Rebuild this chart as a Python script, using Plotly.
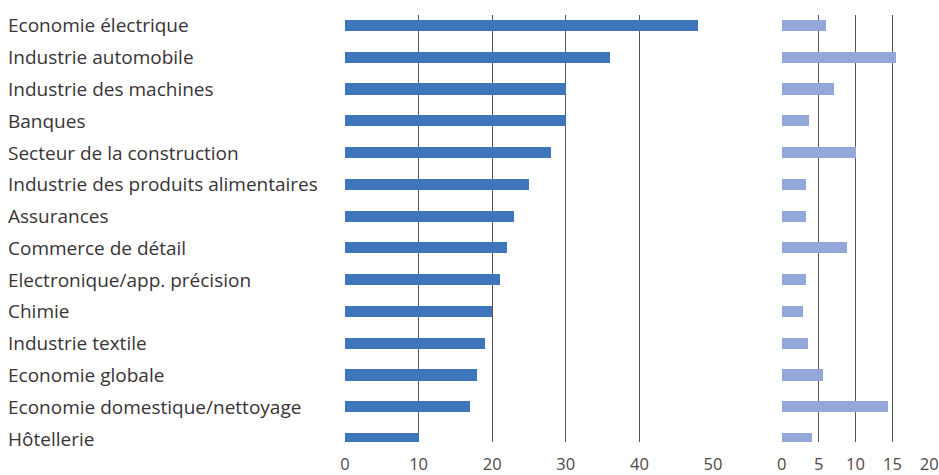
import plotly.graph_objects as go

categories = [
    "Economie électrique",
    "Industrie automobile",
    "Industrie des machines",
    "Banques",
    "Secteur de la construction",
    "Industrie des produits alimentaires",
    "Assurances",
    "Commerce de détail",
    "Electronique/app. précision",
    "Chimie",
    "Industrie textile",
    "Economie globale",
    "Economie domestique/nettoyage",
    "Hôtellerie",
]
left_values = [48, 36, 30, 30, 28, 25, 23, 22, 21, 20, 19, 18, 17, 10]
right_values = [6, 15.5, 7, 3.7, 10, 3.3, 3.3, 8.8, 3.2, 2.8, 3.5, 5.5, 14.3, 4.1]
left_ticks = [0, 10, 20, 30, 40, 50]
right_ticks = [0, 5, 10, 15, 20]

W, H = 939, 475
grid_color = "#5e5456"
text_color = "#3a3336"
font_family = "Open Sans"

fig = go.Figure()
fig.add_trace(go.Bar(
    x=left_values, y=categories, orientation="h",
    marker=dict(color="#3d76bb", line=dict(width=0)),
    width=0.35, xaxis="x", yaxis="y", showlegend=False,
))
fig.add_trace(go.Bar(
    x=right_values, y=categories, orientation="h",
    marker=dict(color="#93a7d8", line=dict(width=0)),
    width=0.35, xaxis="x2", yaxis="y2", showlegend=False,
))

yrange = [13.11, -0.33]
common_x = dict(
    showgrid=True, gridcolor=grid_color, gridwidth=1.4,
    zeroline=False, showline=False, ticks="",
    tickfont=dict(family=font_family, size=16.5, color="#4f4749"),
    ticklabelstandoff=10, fixedrange=True, automargin=False,
)
common_y = dict(
    domain=[1 - 442 / H, 1 - 15 / H], range=yrange, type="category",
    showticklabels=False, showgrid=False, zeroline=False,
    fixedrange=True, automargin=False,
)
fig.update_layout(
    width=W, height=H,
    margin=dict(l=0, r=0, t=0, b=0, autoexpand=False),
    paper_bgcolor="white", plot_bgcolor="white",
    bargap=0,
    xaxis=dict(domain=[345 / W, 713 / W], range=[0, 50], tickvals=left_ticks,
               anchor="y", **common_x),
    xaxis2=dict(domain=[781.7 / W, 929.3 / W], range=[0, 20], tickvals=right_ticks,
                anchor="y2", **common_x),
    yaxis=dict(anchor="x", **common_y),
    yaxis2=dict(anchor="x2", **common_y),
)

annotations = []
for c in categories:
    annotations.append(dict(
        text=c, x=6 / W, xref="paper", xanchor="left",
        y=c, yref="y", yanchor="middle", showarrow=False,
        font=dict(family=font_family, size=19, color=text_color),
    ))
fig.update_layout(annotations=annotations)

fig.write_html("out.html")
